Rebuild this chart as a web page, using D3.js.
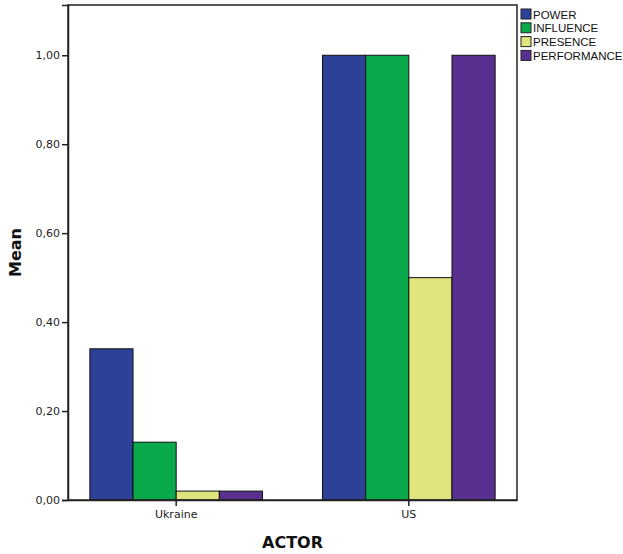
<!DOCTYPE html>
<html>
<head>
<meta charset="utf-8">
<script src="https://cdn.jsdelivr.net/npm/d3@7"></script>
<style>
  body { margin: 0; background: #fff; }
  svg { display: block; }
</style>
</head>
<body>
<div id="chart"></div>
<script>
// Data
const actors = ["Ukraine", "US"];
const measures = ["POWER", "INFLUENCE", "PRESENCE", "PERFORMANCE"];
const ukraineMeans = [0.34, 0.13, 0.02, 0.02];
const usMeans = [1.00, 1.00, 0.50, 1.00];
const yTicks = [0, 0.2, 0.4, 0.6, 0.8, 1.0];
const colors = ["#2d4198", "#0aa94c", "#dfe47c", "#58308f"];

const rows = actors.map((a, i) => ({
    actor: a,
    values: (i === 0 ? ukraineMeans : usMeans).map((v, j) => ({ key: measures[j], value: v }))
}));

const width = 623, height = 554;
const margin = { top: 5, right: 106, bottom: 54, left: 68 };

const svg = d3.select("#chart").append("svg")
    .attr("width", width)
    .attr("height", height);

const x0 = d3.scaleBand()
    .domain(actors)
    .range([margin.left, width - margin.right])
    .paddingInner(0.258)
    .paddingOuter(0.094);

const x1 = d3.scaleBand()
    .domain(measures)
    .range([0, x0.bandwidth()]);

const y = d3.scaleLinear()
    .domain([0, 1.113])
    .range([height - margin.bottom, margin.top]);

const color = d3.scaleOrdinal().domain(measures).range(colors);

const fmt = d => d3.format(".2f")(d).replace(".", ",");
const tickFont = "'DejaVu Sans', Verdana, sans-serif";

// Bars
const group = svg.append("g")
    .selectAll("g")
    .data(rows)
    .join("g")
    .attr("transform", d => `translate(${x0(d.actor)},0)`);

group.selectAll("rect")
    .data(d => d.values)
    .join("rect")
    .attr("x", d => x1(d.key))
    .attr("y", d => y(d.value))
    .attr("width", x1.bandwidth())
    .attr("height", d => y(0) - y(d.value))
    .attr("fill", d => color(d.key))
    .attr("stroke", "#111")
    .attr("stroke-width", 1);

// Frame
svg.append("rect")
    .attr("x", margin.left)
    .attr("y", margin.top)
    .attr("width", width - margin.left - margin.right)
    .attr("height", height - margin.top - margin.bottom)
    .attr("fill", "none")
    .attr("stroke", "#222")
    .attr("stroke-width", 1.5);

// Y axis
const yAxis = svg.append("g")
    .attr("transform", `translate(${margin.left},0)`)
    .call(d3.axisLeft(y).tickValues(yTicks).tickFormat(fmt).tickSize(6).tickPadding(2));
yAxis.select(".domain").attr("stroke", "#222").attr("stroke-width", 1.5);
yAxis.selectAll(".tick line").attr("stroke", "#222").attr("stroke-width", 1.5);
yAxis.selectAll("text")
    .attr("font-family", tickFont)
    .attr("font-size", 11)
    .attr("fill", "#222");

// X axis
const xAxis = svg.append("g")
    .attr("transform", `translate(0,${height - margin.bottom})`)
    .call(d3.axisBottom(x0).tickSize(6).tickSizeOuter(0).tickPadding(4));
xAxis.select(".domain").attr("stroke", "#222").attr("stroke-width", 1.5);
xAxis.selectAll(".tick line").attr("stroke", "#222").attr("stroke-width", 1.5);
xAxis.selectAll("text")
    .attr("font-family", tickFont)
    .attr("font-size", 11)
    .attr("fill", "#222");

// Axis titles
svg.append("text")
    .attr("x", (margin.left + width - margin.right) / 2)
    .attr("y", 548)
    .attr("text-anchor", "middle")
    .attr("font-family", "'DejaVu Sans', sans-serif")
    .attr("font-weight", "bold")
    .attr("font-size", 16)
    .attr("fill", "#111")
    .text("ACTOR");

svg.append("text")
    .attr("transform", `translate(21,${(margin.top + height - margin.bottom) / 2}) rotate(-90)`)
    .attr("text-anchor", "middle")
    .attr("font-family", "'DejaVu Sans', sans-serif")
    .attr("font-weight", "bold")
    .attr("font-size", 16)
    .attr("fill", "#111")
    .text("Mean");

// Legend
const legend = svg.append("g")
    .attr("transform", `translate(${width - margin.right + 4},9)`);

measures.forEach((m, i) => {
    const ly = i * 13.8;
    legend.append("rect")
        .attr("x", 0)
        .attr("y", ly)
        .attr("width", 10)
        .attr("height", 10)
        .attr("fill", color(m))
        .attr("stroke", "#222")
        .attr("stroke-width", 1);
    legend.append("text")
        .attr("x", 12)
        .attr("y", ly + 9.5)
        .attr("font-family", "'Liberation Sans', Arial, sans-serif")
        .attr("font-size", 11.5)
        .attr("fill", "#111")
        .text(m);
});
</script>
</body>
</html>
